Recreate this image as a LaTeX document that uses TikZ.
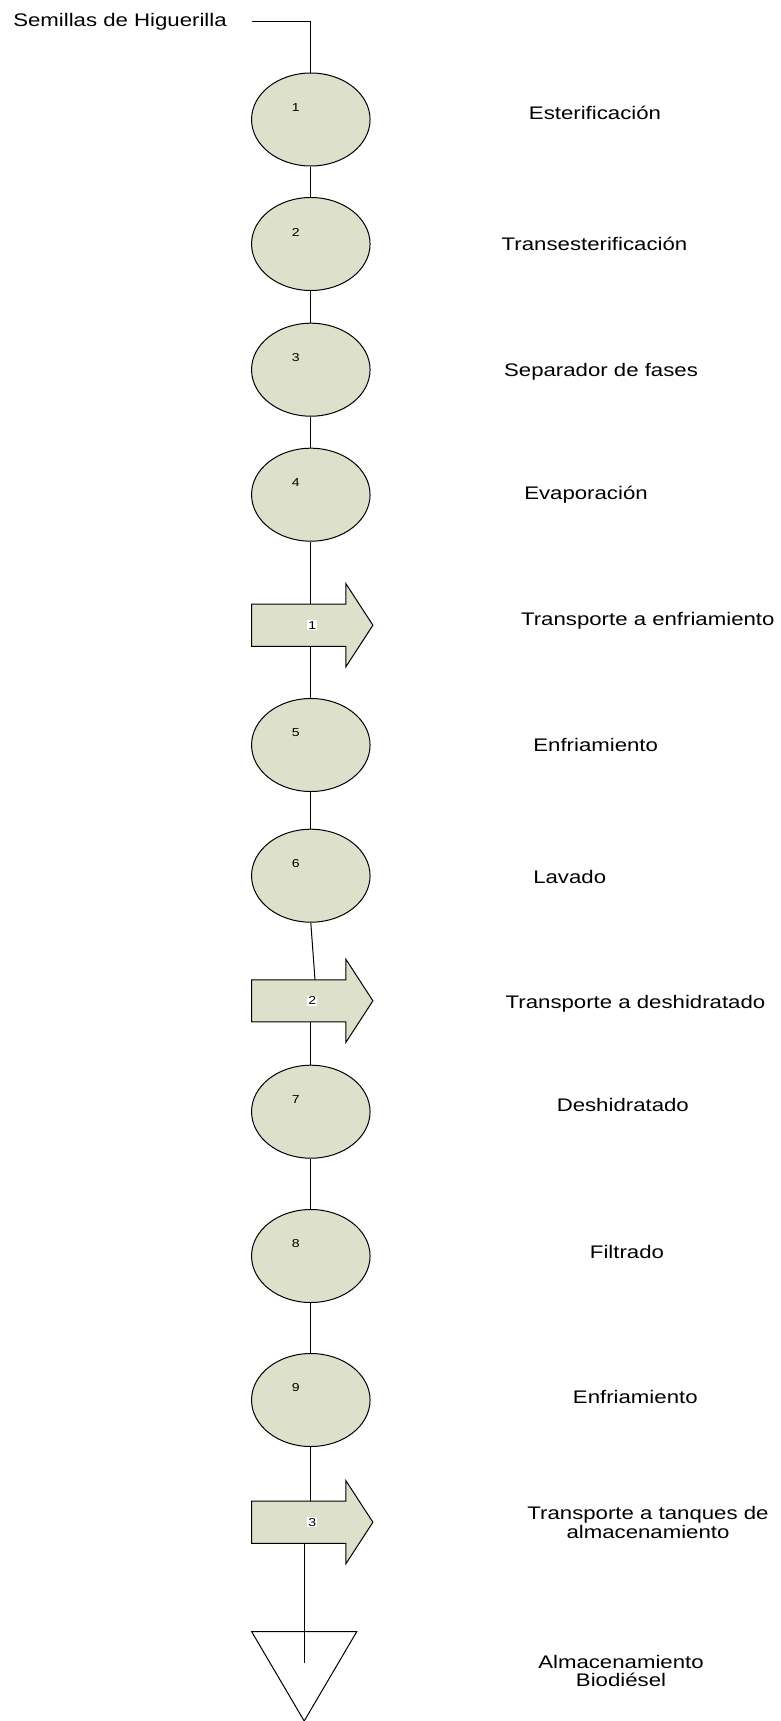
\documentclass[tikz,border=0pt]{standalone}
\usepackage{fontspec}
\setmainfont[FakeStretch=1.22]{Liberation Sans}
\usetikzlibrary{calc,shapes.geometric}
\definecolor{stepfill}{RGB}{221,224,203}
\begin{document}
\begin{tikzpicture}[x=1pt,y=-1pt,
  flow/.style={draw=black, line width=1pt},
  op/.style={ellipse, draw=black, fill=stepfill, line width=1pt,
    minimum width=118.5pt, minimum height=93pt, inner sep=0pt},
  opnum/.style={font=\fontsize{11.5}{13}\selectfont, inner sep=0pt,
    xshift=-15pt, yshift=12pt},
  tbody/.style={rectangle, minimum width=94pt, minimum height=41.7pt, inner sep=0pt},
  tshape/.style={draw=black, fill=stepfill, line width=1pt, line join=miter},
  tnum/.style={font=\fontsize{11.5}{13}\selectfont, fill=white, inner sep=1.2pt},
  lbl/.style={anchor=base, inner sep=0pt, align=center,
    font=\fontsize{18.2}{18.4}\selectfont},
]
\useasboundingbox (0,0) rectangle (781,1721);

% operations (circles)
\node[op, label={[opnum]center:1}] (e1) at (310.8,119.5) {};
\node[op, label={[opnum]center:2}] (e2) at (310.8,244) {};
\node[op, label={[opnum]center:3}] (e3) at (310.8,369.7) {};
\node[op, label={[opnum]center:4}] (e4) at (310.8,494.7) {};
\node[op, label={[opnum]center:5}] (e5) at (310.8,745) {};
\node[op, label={[opnum]center:6}] (e6) at (310.8,875.7) {};
\node[op, label={[opnum]center:7}] (e7) at (310.8,1111.7) {};
\node[op, label={[opnum]center:8}] (e8) at (310.8,1256) {};
\node[op, label={[opnum]center:9}] (e9) at (310.8,1400) {};

% transport arrows: shaft node, then the outline with its head
\node[tbody] (t1) at (298.7,625.2) {};
\node[tbody] (t2) at (298.7,1000.8) {};
\node[tbody] (t3) at (298.7,1522.2) {};
\foreach \t in {t1,t2,t3}{
  \draw[tshape] (\t.south west) -- (\t.north west) -- (\t.north east)
    -- ++(0,-20.5) -- ($(\t.east)+(27,0)$) -- ($(\t.south east)+(0,20.5)$)
    -- (\t.south east) -- cycle;
}
\node[tnum] (t1n) at ([xshift=13.5pt]t1.center) {1};
\node[tnum] (t2n) at ([xshift=13.5pt]t2.center) {2};
\node[tnum] (t3n) at ([xshift=13.5pt]t3.center) {3};

% storage triangle
\coordinate (tk1) at (251.7,1631.7);
\coordinate (tk2) at (356.7,1631.7);
\coordinate (tk3) at (304.2,1721);
\draw[flow, fill=white] (tk1) -- (tk2) -- (tk3) -- cycle;
\coordinate (tkin) at (304.2,1663);

% texts (two-line texts are placed by their last baseline)
\node[lbl] (seeds) at (120,26.7) {Semillas de Higuerilla};
\node[lbl] (l1) at (595,119) {Esterificación};
\node[lbl] (l2) at (594.5,250.7) {Transesterificación};
\node[lbl] (l3) at (601,376.7) {Separador de fases};
\node[lbl] (l4) at (586,499.5) {Evaporación};
\node[lbl] (lt1) at (647.8,625) {Transporte a enfriamiento};
\node[lbl] (l5) at (595.7,751.5) {Enfriamiento};
\node[lbl] (l6) at (569.7,883) {Lavado};
\node[lbl] (lt2) at (635.5,1008) {Transporte a deshidratado};
\node[lbl] (l7) at (622.8,1111.5) {Deshidratado};
\node[lbl] (l8) at (627,1258) {Filtrado};
\node[lbl] (l9) at (635.3,1403) {Enfriamiento};
\node[lbl] (lt3) at (648,1538) {Transporte a tanques de\\almacenamiento};
\node[lbl] (ls) at (621,1686.5) {Almacenamiento\\Biodiésel};

% flow line
\draw[flow] ([xshift=25pt]seeds.east) -| (e1.north);
\draw[flow] (e1.south) -- (e2.north);
\draw[flow] (e2.south) -- (e3.north);
\draw[flow] (e3.south) -- (e4.north);
\draw[flow] (e4.south) -- (e4.south |- t1.north);
\draw[flow] (t1.south -| e5) -- (e5.north);
\draw[flow] (e5.south) -- (e6.north);
\draw[flow] (e6.south) -- ([xshift=16.3pt]t2.north);
\draw[flow] (t2.south -| e7) -- (e7.north);
\draw[flow] (e7.south) -- (e8.north);
\draw[flow] (e8.south) -- (e9.north);
\draw[flow] (e9.south) -- (e9.south |- t3.north);
\draw[flow] (t3.south -| tkin) -- (tkin);
\end{tikzpicture}
\end{document}
